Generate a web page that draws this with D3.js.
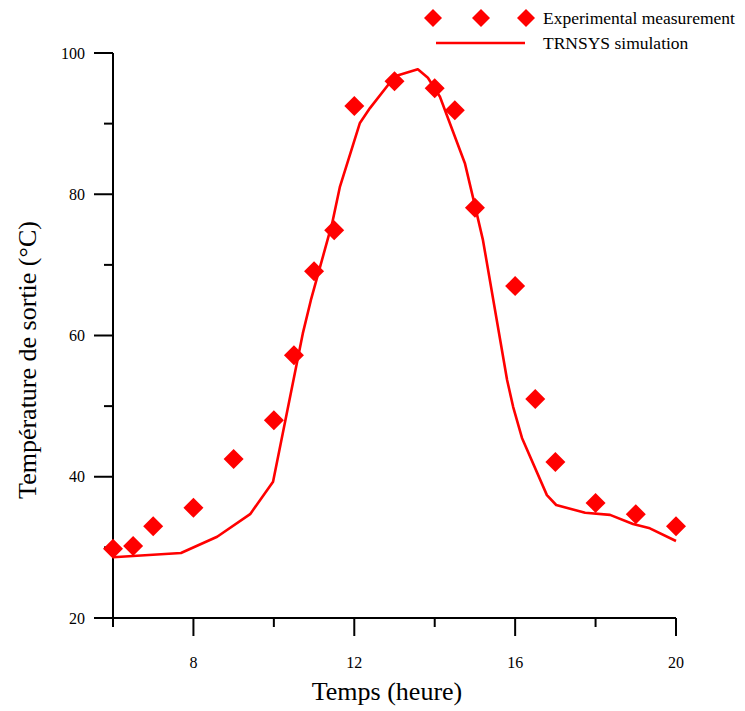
<!DOCTYPE html>
<html>
<head>
<meta charset="utf-8">
<script src="https://d3js.org/d3.v7.min.js"></script>
<style>
body { margin: 0; background: #fff; }
text { font-family: "Liberation Serif", "Times New Roman", serif; fill: #000; }
</style>
</head>
<body>
<div id="chart"></div>
<script>
// measured points (time in hours, temperature in °C)
var expTime = [6, 6.5, 7, 8, 9, 10, 10.5, 11, 11.5, 12, 13, 14, 14.5, 15, 16, 16.5, 17, 18, 19, 20]
var expTemp = [29.8, 30.2, 33.0, 35.6, 42.5, 48.0, 57.2, 69.1, 74.9, 92.5, 96.0, 95.0, 91.9, 78.1, 67.0, 51.0, 42.1, 36.3, 34.7, 33.0]

// TRNSYS curve
var simTime = [6.0, 7.69, 8.59, 9.41, 9.98, 10.72, 10.92, 11.45, 11.64, 12.14, 12.39, 13.01, 13.58, 13.83, 14.13, 14.75, 14.95, 15.2, 15.8, 15.95, 16.17, 16.79, 17.02, 17.74, 18.36, 18.93, 19.35, 20.0]
var simTemp = [28.6, 29.2, 31.5, 34.7, 39.3, 60.3, 65.0, 75.9, 81.0, 90.1, 92.2, 96.7, 97.7, 96.5, 93.8, 84.4, 79.6, 73.5, 53.7, 49.9, 45.5, 37.4, 36.0, 34.9, 34.6, 33.3, 32.7, 30.9]

var xMajor = [8, 12, 16, 20]
var xMinor = [6, 10, 14, 18]
var yMajor = [20, 40, 60, 80, 100]
var yMinor = [30, 50, 70, 90]

var legendLabels = ["Experimental measurement", "TRNSYS simulation"]

var width = 745, height = 711
var red = "#ff0000"

var x = d3.scaleLinear().domain([6, 20]).range([113, 676])
var y = d3.scaleLinear().domain([20, 100]).range([618, 53])

var svg = d3.select("#chart").append("svg")
    .attr("width", width)
    .attr("height", height)

// axes
var axisG = svg.append("g").attr("stroke", "#000").attr("stroke-width", 2)
axisG.append("line")
    .attr("x1", x(6)).attr("x2", x(20))
    .attr("y1", y(20)).attr("y2", y(20))
axisG.append("line")
    .attr("x1", x(6)).attr("x2", x(6))
    .attr("y1", y(20)).attr("y2", y(100))

axisG.selectAll(".xmaj").data(xMajor).enter().append("line")
    .attr("x1", d => x(d)).attr("x2", d => x(d))
    .attr("y1", y(20)).attr("y2", y(20) + 18)
axisG.selectAll(".xmin").data(xMinor).enter().append("line")
    .attr("x1", d => x(d)).attr("x2", d => x(d))
    .attr("y1", y(20)).attr("y2", y(20) + 9)
axisG.selectAll(".ymaj").data(yMajor).enter().append("line")
    .attr("x1", x(6) - 19).attr("x2", x(6))
    .attr("y1", d => y(d)).attr("y2", d => y(d))
axisG.selectAll(".ymin").data(yMinor).enter().append("line")
    .attr("x1", x(6) - 9).attr("x2", x(6))
    .attr("y1", d => y(d)).attr("y2", d => y(d))

svg.selectAll(".xlab").data(xMajor).enter().append("text")
    .attr("x", d => x(d)).attr("y", y(20) + 50)
    .attr("text-anchor", "middle")
    .style("font-size", "16px")
    .text(d => d)
svg.selectAll(".ylab").data(yMajor).enter().append("text")
    .attr("x", x(6) - 28).attr("y", d => y(d) + 5.5)
    .attr("text-anchor", "end")
    .style("font-size", "16px")
    .text(d => d)

svg.append("text")
    .attr("x", 387).attr("y", 700)
    .attr("text-anchor", "middle")
    .style("font-size", "26px")
    .text("Temps (heure)")
svg.append("text")
    .attr("transform", "translate(36,360) rotate(-90)")
    .attr("text-anchor", "middle")
    .style("font-size", "26px")
    .text("Température de sortie (°C)")

// simulation line
var line = d3.line()
    .x(function(d, i) { return x(simTime[i]) })
    .y(function(d) { return y(d) })
svg.append("path")
    .datum(simTemp)
    .attr("d", line)
    .style("fill", "none")
    .style("stroke", red)
    .style("stroke-width", 2.6)
    .style("stroke-linejoin", "round")

// diamonds
var diamond = "M0,-10L10,0L0,10L-10,0Z"
svg.selectAll(".dot").data(expTemp).enter().append("path")
    .attr("d", diamond)
    .attr("transform", function(d, i) { return "translate(" + x(expTime[i]) + "," + y(d) + ")" })
    .style("fill", red)

// legend
var leg = svg.append("g")
leg.selectAll(".ldot").data([433, 481, 526]).enter().append("path")
    .attr("d", "M0,-9L9,0L0,9L-9,0Z")
    .attr("transform", d => "translate(" + d + ",18)")
    .style("fill", red)
leg.append("line")
    .attr("x1", 436).attr("x2", 525)
    .attr("y1", 43).attr("y2", 43)
    .style("stroke", red).style("stroke-width", 2.6)
leg.selectAll(".ltext").data(legendLabels).enter().append("text")
    .attr("x", 543).attr("y", (d, i) => 24 + i * 25)
    .style("font-size", "17.5px")
    .text(d => d)
</script>
</body>
</html>
